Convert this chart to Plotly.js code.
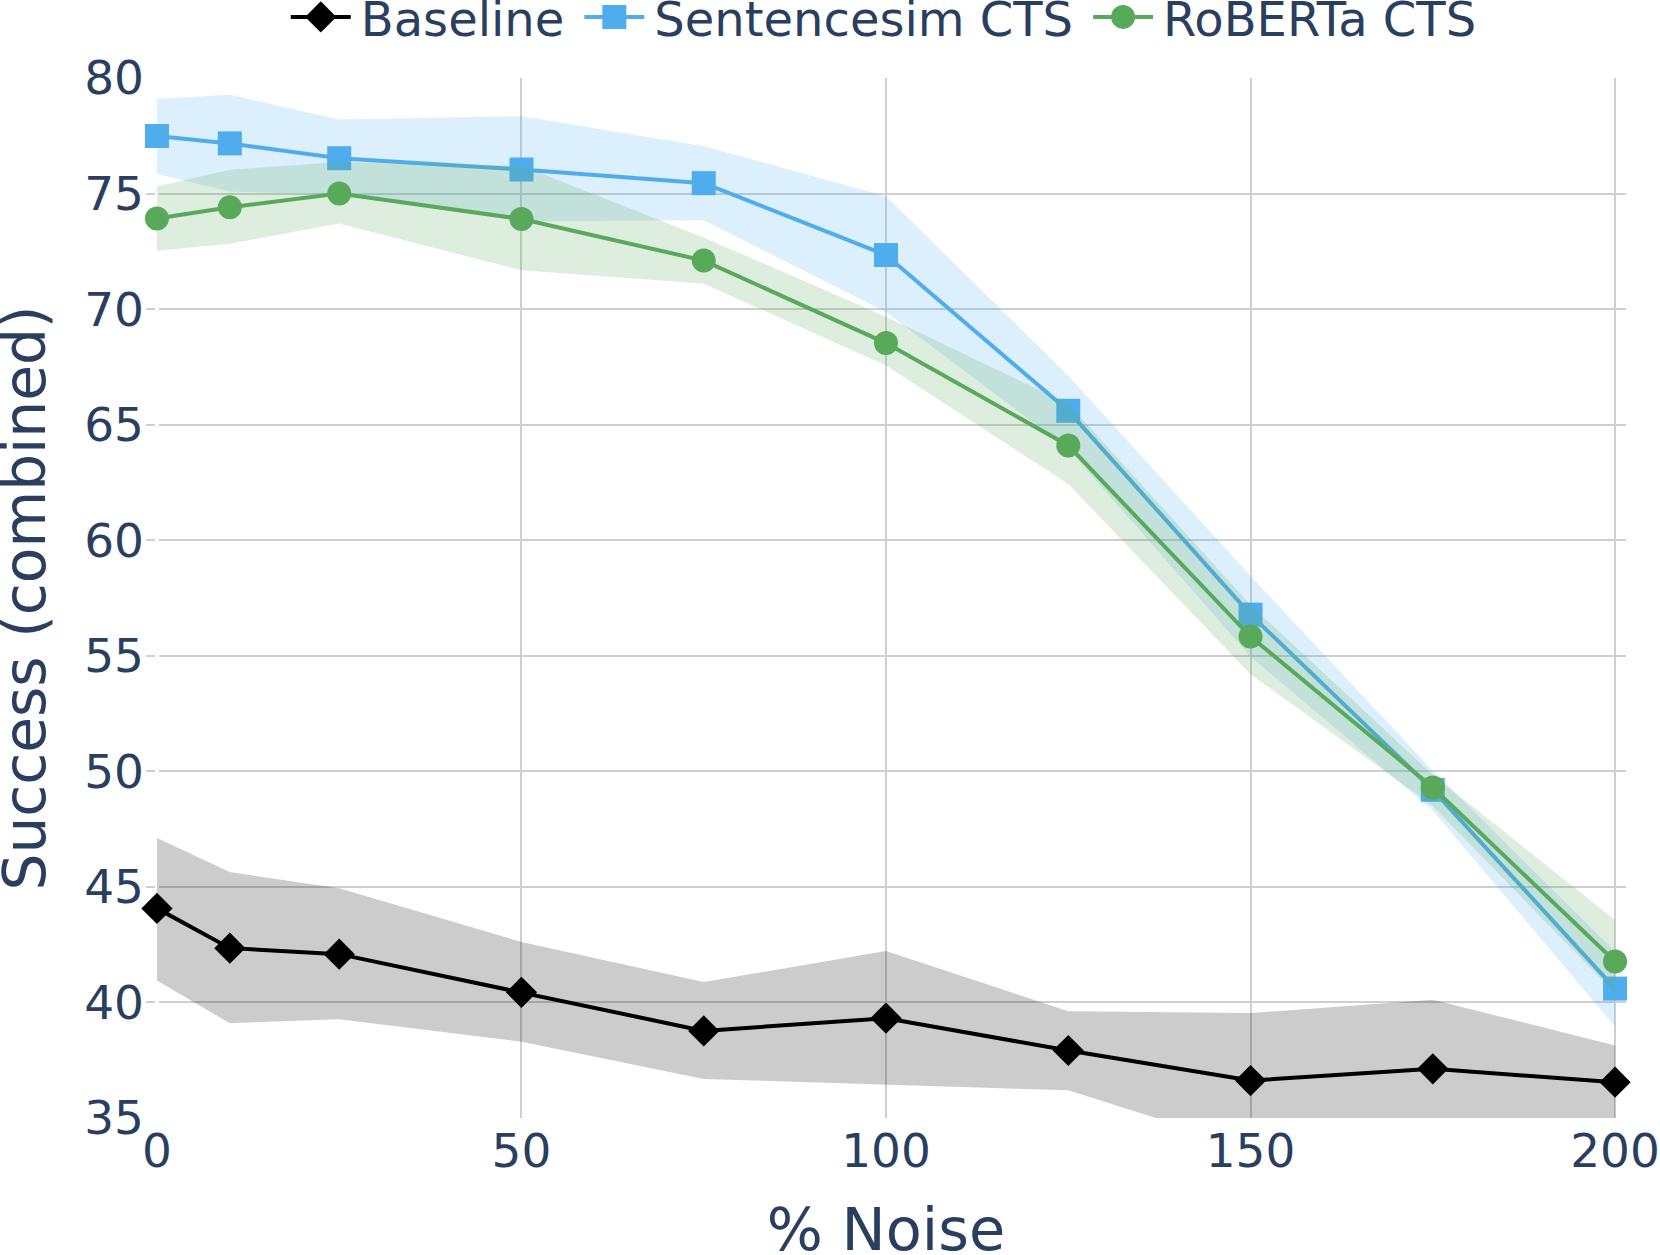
<!DOCTYPE html>
<html>
<head>
<meta charset="utf-8">
<script src="https://cdn.plot.ly/plotly-3.0.1.min.js"></script>
<style>
html,body{margin:0;padding:0;background:#fff;width:1660px;height:1255px;overflow:hidden}
#chart path{vector-effect:none !important}
#chart .g-xtitle{transform:translateY(1.2px)}
#chart .g-ytitle{transform:translateX(2.1px)}
</style>
</head>
<body>
<div id="chart" style="width:830px;height:627.5px"></div>
<script>
const noise = [0, 10, 25, 50, 75, 100, 125, 150, 175, 200];

const baselineMean  = [44.07, 42.35, 42.09, 40.44, 38.77, 39.32, 37.92, 36.62, 37.13, 36.55];
const baselineUpper = [47.12, 45.64, 44.94, 42.62, 40.88, 42.23, 39.62, 39.54, 40.12, 38.14];
const baselineLower = [40.95, 39.10, 39.27, 38.30, 36.69, 36.42, 36.20, 33.70, 34.10, 34.60];

const sentMean  = [77.49, 77.17, 76.53, 76.04, 75.45, 72.34, 65.60, 56.78, 49.20, 40.60];
const sentUpper = [79.09, 79.28, 78.20, 78.35, 77.05, 74.88, 67.12, 58.45, 50.03, 42.20];
const sentLower = [75.85, 75.09, 74.95, 73.80, 73.85, 69.88, 63.95, 54.97, 48.30, 38.95];

const robertaMean  = [73.92, 74.41, 75.00, 73.90, 72.10, 68.53, 64.10, 55.83, 49.30, 41.77];
const robertaUpper = [75.30, 76.03, 76.36, 76.20, 73.10, 69.67, 65.90, 57.20, 49.85, 43.57];
const robertaLower = [72.53, 72.83, 73.70, 71.68, 71.10, 67.56, 62.43, 54.20, 48.50, 40.40];

const FONT = '"DejaVu Sans", Verdana, sans-serif';
const TEXT = '#2a3f5f';
const GRID = '#cfcfcf';

function series(name, color, fillColor, symbol, mean, upper, lower) {
  return [
    {x: noise, y: upper, mode: 'lines', line: {width: 0, color: color}, showlegend: false, hoverinfo: 'skip', type: 'scatter'},
    {x: noise, y: lower, mode: 'lines', line: {width: 0, color: color}, fill: 'tonexty', fillcolor: fillColor, showlegend: false, hoverinfo: 'skip', type: 'scatter'},
    {x: noise, y: mean, name: name, mode: 'lines+markers', type: 'scatter', cliponaxis: false,
     line: {color: color, width: 2},
     marker: {color: color, size: 12, symbol: symbol}}
  ];
}

const data = [].concat(
  series('Baseline', '#000000', 'rgba(0,0,0,0.2)', 'diamond', baselineMean, baselineUpper, baselineLower),
  series('Sentencesim CTS', '#4FADEE', 'rgba(79,173,238,0.2)', 'square', sentMean, sentUpper, sentLower),
  series('RoBERTa CTS', '#59A95A', 'rgba(89,169,90,0.2)', 'circle', robertaMean, robertaUpper, robertaLower)
);

const layout = {
  width: 830, height: 627.5,
  margin: {l: 73, r: 17, t: 39, b: 68.5, pad: 0, autoexpand: false},
  paper_bgcolor: '#ffffff', plot_bgcolor: '#ffffff',
  font: {family: FONT, color: TEXT, size: 23.5},
  showlegend: true,
  legend: {orientation: 'h', traceorder: 'normal', x: 0.4985, xanchor: 'center', y: 1.058, yanchor: 'middle', font: {size: 24, family: FONT, color: TEXT}, bgcolor: 'rgba(0,0,0,0)'},
  xaxis: {
    range: [-1.5, 201.5], dtick: 50, tick0: 0, showgrid: true, gridcolor: GRID, gridwidth: 1,
    zeroline: true, zerolinecolor: '#ffffff', zerolinewidth: 2, showline: false, ticks: '',
    tickfont: {size: 23.5, family: FONT, color: TEXT},
    title: {text: '% Noise', font: {size: 29.5, family: FONT, color: TEXT}, standoff: 14}
  },
  yaxis: {
    range: [35, 80], dtick: 5, tick0: 35, showgrid: true, gridcolor: GRID, gridwidth: 1,
    zeroline: false, showline: false, ticks: '',
    tickfont: {size: 23.5, family: FONT, color: TEXT},
    title: {text: 'Success (combined)', font: {size: 29.1, family: FONT, color: TEXT}, standoff: 12}
  }
};

Plotly.newPlot('chart', data, layout, {displayModeBar: false, staticPlot: true}).then(function () {
  const el = document.getElementById('chart');
  el.style.transformOrigin = '0 0';
  el.style.transform = 'scale(2)';
});
</script>
</body>
</html>
